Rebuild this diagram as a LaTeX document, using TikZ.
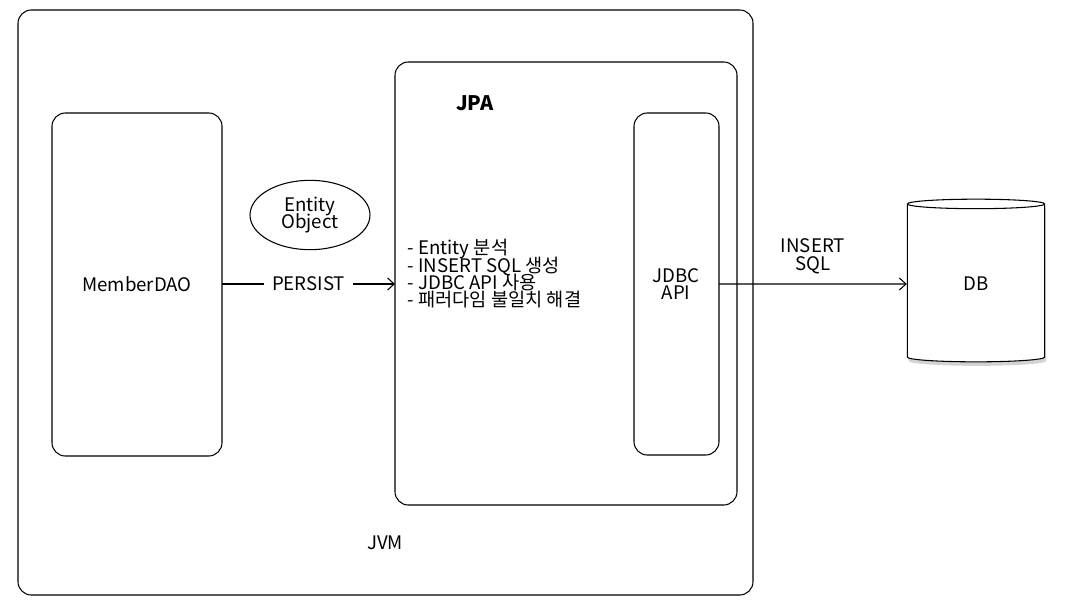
\documentclass[tikz,border=0pt]{standalone}
\usepackage{fontspec}
\setmainfont{Noto Sans CJK KR}
\usetikzlibrary{arrows.meta,positioning,shapes.geometric,shadows}
\tikzset{
    box/.style={draw,thick,rounded corners=10pt},
    arr/.style={->,>={Straight Barb[length=5pt,width=9pt]},thick},
}
\tikzstyle{every node}=[font=\fontsize{14pt}{17pt}\selectfont]
\begin{document}
\begin{tikzpicture}[x=0.75pt,y=-0.75pt]
        \useasboundingbox (0,0) rectangle (1068,616);
        \draw[box] (18,10) rectangle (753,595);
        \node (jvm) at (385,543) {JVM};

        \draw[box] (52,113) rectangle (222,456);
        \node (dao) at (137,284) {MemberDAO};
        \coordinate (daoR) at (222,284);

        \draw[box] (395,62) rectangle (737,505);
        \node[font=\fontsize{15pt}{18pt}\selectfont\bfseries] (jpa) at (475,103) {JPA};
        \coordinate (jpaL) at (395,284);

        \draw[box] (634,113) rectangle (719,455);
        \node[align=center] (jdbc) at (676,284) {JDBC\\[-4pt]API};
        \coordinate (jdbcR) at (719,284);

        \node[draw,thick,ellipse,minimum width=90pt,minimum height=52pt,
            inner sep=1pt,align=center] (entity) at (310,215) {Entity\\[-4pt]Object};

        \node[anchor=west,align=left] (tasks) at (403,274) {%
            - Entity 분석\\[-4pt]
            - INSERT SQL 생성\\[-4pt]
            - JDBC API 사용\\[-4pt]
            - 패러다임 불일치 해결};

        \node[draw,thick,cylinder,shape border rotate=90,aspect=0.28,
            minimum width=103pt,minimum height=122pt,fill=white,
            drop shadow={shadow xshift=1pt,shadow yshift=-3pt,opacity=.35}] (db) at (976,284) {DB};

        \draw[arr] (daoR) -- node[fill=white,inner sep=6pt] {PERSIST} (jpaL);
        \draw[arr] (jdbcR) -- node[above,align=center,yshift=4pt] {INSERT\\[-4pt]SQL} (db.west);
    \end{tikzpicture}
\end{document}
